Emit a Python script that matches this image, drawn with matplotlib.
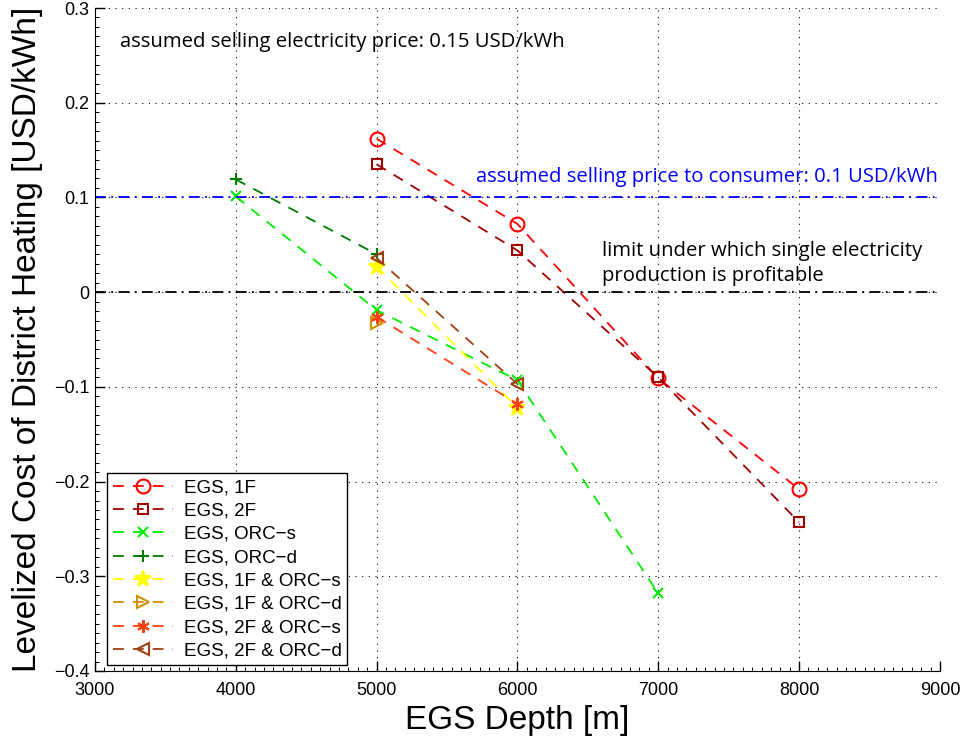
import matplotlib
matplotlib.use("Agg")
import matplotlib.pyplot as plt
from matplotlib.ticker import MultipleLocator

depth_1F = [5000, 6000, 7000, 8000]
cost_1F = [0.162, 0.072, -0.091, -0.208]
depth_2F = [5000, 6000, 7000, 8000]
cost_2F = [0.135, 0.044, -0.090, -0.243]
depth_orcs = [4000, 5000, 6000, 7000]
cost_orcs = [0.101, -0.019, -0.093, -0.318]
depth_orcd = [4000, 5000]
cost_orcd = [0.119, 0.040]
depth_1f_orcs = [5000, 6000]
cost_1f_orcs = [0.027, -0.122]
depth_1f_orcd = [5000]
cost_1f_orcd = [-0.033]
depth_2f_orcs = [5000, 6000]
cost_2f_orcs = [-0.026, -0.118]
depth_2f_orcd = [5000, 6000]
cost_2f_orcd = [0.036, -0.097]

labels = ["EGS, 1F", "EGS, 2F", "EGS, ORC\u2212s", "EGS, ORC\u2212d",
          "EGS, 1F & ORC\u2212s", "EGS, 1F & ORC\u2212d", "EGS, 2F & ORC\u2212s", "EGS, 2F & ORC\u2212d"]

xticks = [3000, 4000, 5000, 6000, 7000, 8000, 9000]
yticks = [-0.4, -0.3, -0.2, -0.1, 0, 0.1, 0.2, 0.3]
yticklabels = ["\u22120.4", "\u22120.3", "\u22120.2", "\u22120.1", "0", "0.1", "0.2", "0.3"]

consumer_price = 0.1
limit_price = 0.0

fig = plt.figure(figsize=(9.64, 7.42), dpi=100)
ax = fig.add_axes([0.0985, 0.0957, 0.8765, 0.8935])

series = [
    (depth_1F, cost_1F, "#ff0000", "o", 10, "none"),
    (depth_2F, cost_2F, "#a00000", "s", 7, "none"),
    (depth_orcs, cost_orcs, "#00ee00", "x", 7, "none"),
    (depth_orcd, cost_orcd, "#007a00", "+", 9, "none"),
    (depth_1f_orcs, cost_1f_orcs, "#ffff00", "*", 12, "#ffff00"),
    (depth_1f_orcd, cost_1f_orcd, "#d09000", ">", 8, "none"),
    (depth_2f_orcs, cost_2f_orcs, "#ff4010", (6, 2, 0), 9, "#ff4010"),
    (depth_2f_orcd, cost_2f_orcd, "#a04010", "<", 8, "none"),
]
for (x, y, c, m, ms, fc), lab in zip(series, labels):
    ax.plot(x, y, linestyle=(0, (6, 5)), color=c, marker=m, markersize=ms,
            markerfacecolor=fc, markeredgecolor=c, markeredgewidth=1.5,
            linewidth=1.3, label=lab)

ax.axhline(consumer_price, color="#0000ff", linestyle=(0, (6, 3, 1, 3)), linewidth=1.3)
ax.axhline(limit_price, color="black", linestyle=(0, (6, 3, 1, 3)), linewidth=1.3)

ax.set_xlim(3000, 9000)
ax.set_ylim(-0.4, 0.3)
ax.set_xticks(xticks)
ax.set_yticks(yticks)
ax.set_yticklabels(yticklabels)
ax.xaxis.set_minor_locator(MultipleLocator(1000 / 15))
ax.yaxis.set_minor_locator(MultipleLocator(0.01))
ax.spines["top"].set_visible(False)
ax.spines["right"].set_visible(False)
ax.tick_params(which="major", direction="in", labelsize=13, top=False, right=False,
               length=7, width=1.0)
ax.tick_params(axis="x", which="major", pad=8)
ax.tick_params(axis="y", which="major", pad=4)
ax.tick_params(which="minor", direction="in", top=False, right=False, length=3, width=0.7)
for lab in ax.get_xticklabels() + ax.get_yticklabels():
    lab.set_family("Liberation Sans")
ax.grid(True, which="major", linestyle=(0, (1, 5)), color="black", linewidth=0.8)

ax.set_xlabel("EGS Depth [m]", fontsize=24, family="Liberation Sans", labelpad=4)
ax.set_ylabel("Levelized Cost of District Heating [USD/kWh]", fontsize=24,
              family="Liberation Sans", labelpad=8)

ax.text(3178, 0.264, "assumed selling electricity price: 0.15 USD/kWh", fontsize=14.6,
        family="Open Sans", va="center", ha="left", color="black")
ax.text(8987, 0.122, "assumed selling price to consumer: 0.1 USD/kWh", fontsize=14.6,
        family="Open Sans", va="center", ha="right", color="#0000ff")
ax.text(6601, 0.030, "limit under which single electricity\nproduction is profitable",
        fontsize=14.6, family="Open Sans", va="center", ha="left", color="black",
        linespacing=1.35)

leg = ax.legend(loc="lower left", bbox_to_anchor=(0.0142, 0.009),
                prop={"family": "Liberation Sans", "size": 13.5},
                fancybox=False, framealpha=1, edgecolor="black", borderpad=0.3,
                labelspacing=0.33, handlelength=3.2, handletextpad=0.6,
                borderaxespad=0)
leg.get_frame().set_linewidth(1.0)

fig.savefig("out.png", dpi=100)
